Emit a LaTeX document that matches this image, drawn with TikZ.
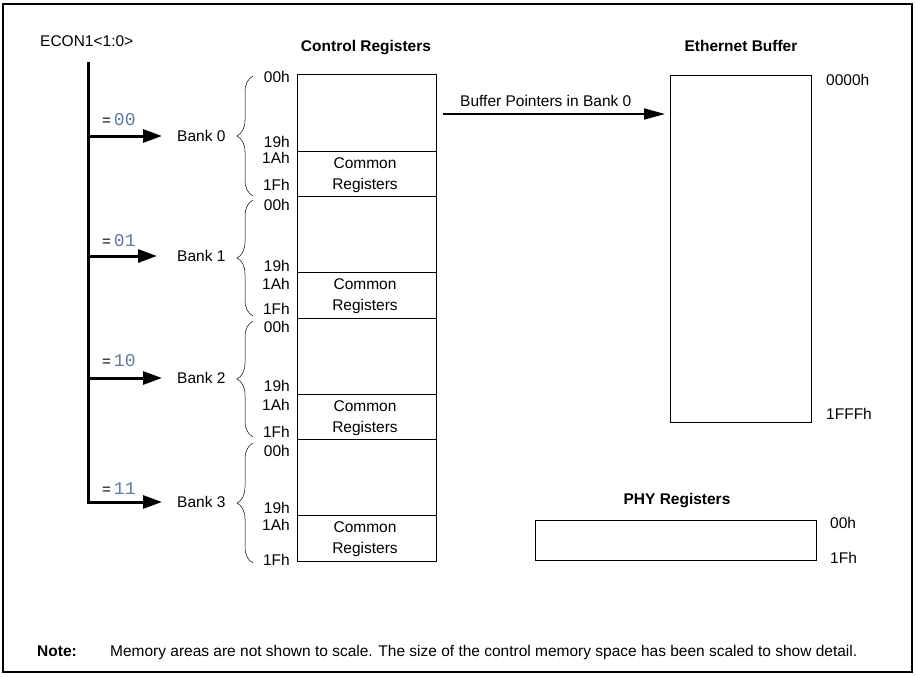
\documentclass[tikz,border=0pt]{standalone}
\usepackage{fontspec}
\usepackage{graphicx}
\setmainfont{Liberation Sans}
\newfontfamily\bitfont{Liberation Mono}
\usetikzlibrary{arrows.meta,decorations.pathreplacing}
\definecolor{bitcol}{RGB}{95,120,165}
\begin{document}
\begin{tikzpicture}[x=1pt,y=-1pt,
  lbl/.style={font=\fontsize{15.5}{17}\selectfont, inner sep=0pt, text height=11pt, text depth=0pt},
  ttl/.style={font=\fontsize{15.5}{17}\selectfont\bfseries, inner sep=0pt, text height=11pt, text depth=0pt},
  twoline/.style={font=\fontsize{15.5}{21}\selectfont, inner sep=0pt, align=center},
  regbox/.style={draw, line width=1pt},
  selline/.style={line width=3pt, line join=miter},
  selarrow/.style={line width=3pt, -{Triangle[length=19pt,width=13pt]}},
  ptrarrow/.style={line width=1.8pt, -{Triangle[length=21pt,width=11pt]}},
  bankbrace/.style={decorate, decoration={brace, amplitude=16pt, aspect=0.5}, line width=0.5pt},
  bits/.style={inner sep=0pt, text height=11pt, text depth=0pt}
]
\useasboundingbox (0,0) rectangle (916,677);
\draw[line width=1.5pt] (3,4) rectangle (912,672);

% selector
\node[lbl, anchor=west] (econ) at (40,41) {ECON1<1:0>};
\coordinate (vtop) at (88,62);

% banks
\foreach \i/\by/\ly/\bits/\top/\bot/\sh in {0/136/120/00/76/196/15, 1/256/241/01/200/316/20, 2/378/361/10/321/437/15, 3/502/489/11/443/563/15}{
  \node[lbl, anchor=west] (bank\i) at (177,\by) {Bank \i};
  \node[bits, anchor=west] (sel\i) at (102,\ly) {\fontsize{15}{17}\selectfont =\hspace{3pt}{\fontsize{18}{18}\bitfont\color{bitcol}\bits}};
  \draw[bankbrace] (253,\bot) -- (253,\top);
}
\coordinate (v0) at (88,136);
\coordinate (v1) at (88,256);
\coordinate (v2) at (88,378);
\draw[selline] (vtop) -- (v2);
\draw[selarrow, shorten >=15pt] (v0) -- (bank0.west);
\draw[selarrow, shorten >=20pt] (v1) -- (bank1.west);
\draw[selarrow, shorten >=15pt] (v2) -- (bank2.west);
\draw[selarrow, line join=miter, shorten >=15pt] (v2) |- (bank3.west);

% control registers
\node[ttl] (ctitle) at (366,46) {Control Registers};
\foreach \i/\a/\b/\c/\ya/\yb/\yc/\yd in {0/75/151/196/77/142/158/185, 1/196/272/318/205/266/284/309, 2/318/394/439/327/386/405/432, 3/439/515/561/451/508/525/560}{
  \draw[regbox] (297,\a) rectangle (436,\b);
  \draw[regbox] (297,\b) rectangle (436,\c);
  \node[twoline] (common\i) at (365,{(\b+\c)/2+1.5}) {Common\\Registers};
  \node[lbl, anchor=east] (a00\i) at (290,\ya) {00h};
  \node[lbl, anchor=east] (a19\i) at (290,\yb) {19h};
  \node[lbl, anchor=east] (a1A\i) at (290,\yc) {1Ah};
  \node[lbl, anchor=east] (a1F\i) at (290,\yd) {1Fh};
}

% ethernet buffer
\node[ttl] (etitle) at (741,46) {Ethernet Buffer};
\node[regbox, anchor=north west, minimum width=141pt, minimum height=347pt, inner sep=0pt] (ebuf) at (670,75) {};
\node[lbl, anchor=west] (e0) at (826,80) {0000h};
\node[lbl, anchor=west] (e1) at (826,414) {1FFFh};
\coordinate (bpstart) at (443,114);
\draw[ptrarrow, shorten >=5pt] (bpstart) -- (bpstart -| ebuf.west);
\node[lbl, anchor=west] (bplabel) at (460,101) {Buffer Pointers in Bank 0};

% PHY registers
\node[ttl] (ptitle) at (677,499) {PHY Registers};
\node[regbox, anchor=north west, minimum width=281pt, minimum height=40pt, inner sep=0pt] (phy) at (535,520) {};
\node[lbl, anchor=west] (p0) at (830,523) {00h};
\node[lbl, anchor=west] (p1) at (830,558) {1Fh};

% note
\node[ttl, anchor=west] (notelbl) at (37,651) {Note:};
\node[lbl, anchor=west] (notetxt) at (110,651) {\resizebox{747pt}{\height}{Memory areas are not shown to scale. The size of the control memory space has been scaled to show detail.}};
\end{tikzpicture}
\end{document}
